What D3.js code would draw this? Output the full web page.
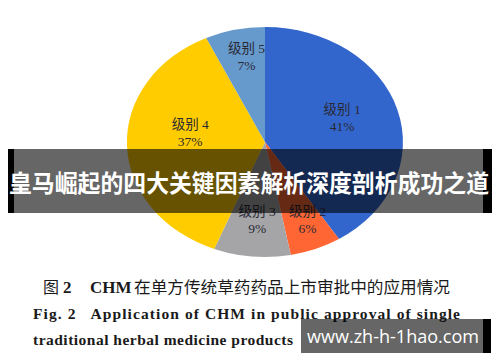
<!DOCTYPE html>
<html>
<head>
<meta charset="utf-8">
<script src="https://cdn.jsdelivr.net/npm/d3@7"></script>
<style>
  html, body { margin: 0; padding: 0; background: #fff; }
  svg { display: block; }
</style>
</head>
<body>
<svg id="chart" width="500" height="362"></svg>
<script>
// ---- data ----
const categories = ["级别 1", "级别 2", "级别 3", "级别 4", "级别 5"];
const values = [41, 6, 9, 37, 7];
const colors = ["#3366CC", "#FF6633", "#A5A5A8", "#FFCC00", "#6699CC"];
const bannerText = "皇马崛起的四大关键因素解析深度剖析成功之道";
const watermarkText = "www.zh-h-1hao.com";
const captionCn = ["图", "2", "CHM", "在单方传统草药药品上市审批中的应用情况"];
const captionEn = ["Fig. 2   Application of CHM in public approval of single", "traditional herbal medicine products"];

// ---- layout ----
const svg = d3.select("#chart");
const cx = 265, cy = 142, rx = 138, ry = 115;
const labelK = 0.68;
const labelNudge = [[-13, -2], [8, 5], [1, 0], [19, -11], [2, -9]];

const pie = d3.pie().sort(null).value(d => d);
const arcs = pie(values);
const arc = d3.arc().innerRadius(0).outerRadius(1);

const g = svg.append("g").attr("transform", `translate(${cx},${cy}) scale(${rx},${ry})`);
g.selectAll("path").data(arcs).join("path")
  .attr("d", arc)
  .attr("fill", (d, i) => colors[i]);

const labelArc = d3.arc().innerRadius(labelK).outerRadius(labelK);
const lab = svg.append("g")
  .attr("font-family", "'Liberation Serif', 'Noto Sans CJK SC', serif")
  .attr("font-size", 13.5)
  .attr("fill", "#2a2a35")
  .attr("text-anchor", "middle");
arcs.forEach((d, i) => {
  const [ux, uy] = labelArc.centroid(d);
  const x = cx + ux * rx + labelNudge[i][0];
  const y = cy + uy * ry + labelNudge[i][1];
  const t = lab.append("text").attr("x", x).attr("y", y);
  t.append("tspan").attr("x", x).attr("y", y - 4).text(categories[i]);
  t.append("tspan").attr("x", x).attr("y", y + 13).text(values[i] + "%");
});

// ---- caption ----
const cap = svg.append("g").attr("fill", "#1a1a1a");
cap.append("text").attr("x", 43).attr("y", 293).attr("font-size", 16)
  .attr("font-family", "'Noto Sans CJK SC', sans-serif").text(captionCn[0]);
cap.append("text").attr("x", 63).attr("y", 293).attr("font-size", 17)
  .attr("font-family", "'Liberation Serif', serif").attr("font-weight", "bold").text(captionCn[1]);
cap.append("text").attr("x", 90).attr("y", 293).attr("font-size", 17)
  .attr("font-family", "'Liberation Serif', serif").attr("font-weight", "bold").text(captionCn[2]);
cap.append("text").attr("x", 134).attr("y", 293)
  .attr("font-family", "'Noto Sans CJK SC', sans-serif").attr("font-size", 16)
  .attr("textLength", 316).attr("lengthAdjust", "spacingAndGlyphs")
  .text(captionCn[3]);

cap.append("text").attr("x", 33).attr("y", 319)
  .attr("font-family", "'Liberation Serif', serif").attr("font-weight", "bold").attr("font-size", 15.5)
  .attr("textLength", 427).attr("lengthAdjust", "spacing")
  .style("white-space", "pre")
  .text(captionEn[0]);
cap.append("text").attr("x", 33).attr("y", 345)
  .attr("font-family", "'Liberation Serif', serif").attr("font-weight", "bold").attr("font-size", 15.5)
  .attr("textLength", 260).attr("lengthAdjust", "spacing")
  .text(captionEn[1]);

// ---- banner overlay ----
const ban = svg.append("g");
ban.append("rect").attr("x", 8).attr("y", 149).attr("width", 484).attr("height", 64).attr("fill", "rgba(0,0,0,0.6)");
ban.append("rect").attr("x", 8).attr("y", 149).attr("width", 6).attr("height", 64).attr("fill", "#000");
ban.append("rect").attr("x", 483).attr("y", 149).attr("width", 9).attr("height", 64).attr("fill", "#000");
ban.append("text").attr("x", 9).attr("y", 192)
  .attr("font-family", "'Noto Sans CJK SC', sans-serif").attr("font-weight", "bold").attr("font-size", 24)
  .attr("fill", "#fff")
  .attr("textLength", 480).attr("lengthAdjust", "spacingAndGlyphs")
  .text(bannerText);

// ---- watermark ----
const wm = svg.append("g");
wm.append("rect").attr("x", 301).attr("y", 319).attr("width", 182).attr("height", 34).attr("fill", "rgba(0,0,0,0.6)");
wm.append("rect").attr("x", 483).attr("y", 319).attr("width", 8).attr("height", 34).attr("fill", "#000");
wm.append("text").attr("x", 307).attr("y", 343)
  .attr("font-family", "'Open Sans', 'Noto Sans', sans-serif").attr("font-size", 18)
  .attr("fill", "#fff")
  .attr("textLength", 172).attr("lengthAdjust", "spacingAndGlyphs")
  .text(watermarkText);
</script>
</body>
</html>
